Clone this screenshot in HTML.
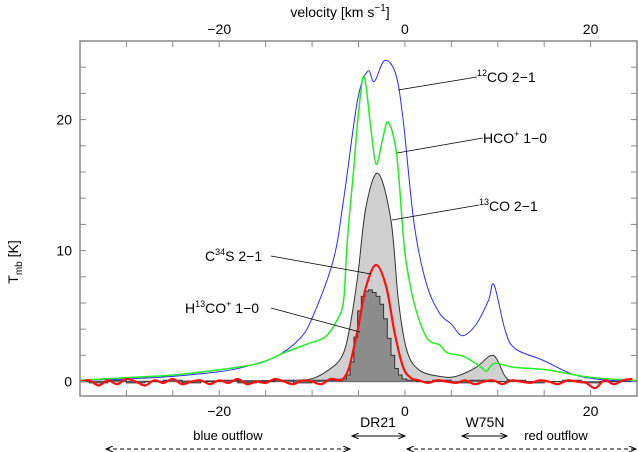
<!DOCTYPE html>
<html><head><meta charset="utf-8"><style>
html,body{margin:0;padding:0;background:#fff;}
svg{display:block;font-family:"Liberation Sans",sans-serif;}
</style></head><body>
<svg id="chart" width="638" height="452" viewBox="0 0 638 452">
<defs>
<marker id="ah" markerWidth="8" markerHeight="6" refX="7" refY="3" orient="auto-start-reverse"><path d="M0,0 L7,3 L0,6" fill="none" stroke="#000" stroke-width="1"/></marker>
</defs>
<g id="marks"></g>
<g id="axes"></g>
<g id="annot" font-size="14" fill="#000">
<text x="340" y="17" text-anchor="middle">velocity [km s<tspan dy="-6" font-size="10">−1</tspan><tspan dy="6">]</tspan></text>
<text transform="translate(18,262) rotate(-90)" text-anchor="middle">T<tspan dy="4" font-size="10">mb</tspan><tspan dy="-4"> [K]</tspan></text>
<g><line x1="398" y1="90" x2="477" y2="77" stroke="#000" stroke-width="0.8"/><text x="477" y="82"><tspan dy="-6" font-size="9">12</tspan><tspan dy="6">CO 2−1</tspan></text></g>
<g><line x1="397" y1="153" x2="483" y2="138" stroke="#000" stroke-width="0.8"/><text x="483" y="143">HCO<tspan dy="-6" font-size="9">+</tspan><tspan dy="6"> 1−0</tspan></text></g>
<g><line x1="392" y1="220" x2="479" y2="205" stroke="#000" stroke-width="0.8"/><text x="479" y="211"><tspan dy="-6" font-size="9">13</tspan><tspan dy="6">CO 2−1</tspan></text></g>
<g><line x1="271" y1="256" x2="371" y2="274" stroke="#000" stroke-width="0.8"/><text x="205" y="261">C<tspan dy="-6" font-size="9">34</tspan><tspan dy="6">S 2−1</tspan></text></g>
<g><line x1="271" y1="308" x2="360" y2="332" stroke="#000" stroke-width="0.8"/><text x="185" y="313">H<tspan dy="-6" font-size="9">13</tspan><tspan dy="6">CO</tspan><tspan dy="-6" font-size="9">+</tspan><tspan dy="6"> 1−0</tspan></text></g>
<text x="378" y="427" text-anchor="middle">DR21</text>
<line x1="352" y1="436" x2="405" y2="436" stroke="#000" marker-start="url(#ah)" marker-end="url(#ah)"/>
<text x="485" y="427" text-anchor="middle">W75N</text>
<line x1="462" y1="436" x2="507" y2="436" stroke="#000" marker-start="url(#ah)" marker-end="url(#ah)"/>
<text x="228" y="440" text-anchor="middle" font-size="13">blue outflow</text>
<line x1="106" y1="449" x2="350" y2="449" stroke="#000" stroke-dasharray="4,3" marker-start="url(#ah)" marker-end="url(#ah)"/>
<text x="556" y="440" text-anchor="middle" font-size="13">red outflow</text>
<line x1="407" y1="449" x2="636" y2="449" stroke="#000" stroke-dasharray="4,3" marker-start="url(#ah)" marker-end="url(#ah)"/>
</g>
</svg>
<script>
const xTicks=[-20,0,20];
const yTicks=[0,10,20];
const co12V=[-35,-30,-25,-20,-17.4,-13.9,-11.3,-9.9,-7.7,-6.6,-5.1,-4,-3.3,-2.2,-1,-0.2,1,2.3,3.75,5,6.2,7.7,9,9.6,10.8,11.9,14.8,17.9,20,22,25];
const co12T=[0.1,0.2,0.4,0.75,1.1,1.9,3.3,5,9.3,13.9,21.5,23.7,22.9,24.5,23.5,20,12,7.5,5.2,4.4,3.5,4.4,6.2,7.4,3.9,2.5,1.65,0.6,0.25,0.1,0];
const hcoV=[-35,-30,-25,-20,-15.7,-13,-10.4,-8.6,-7.3,-6.6,-6.2,-5.5,-5,-4.4,-3.7,-3.1,-2.4,-1.8,-0.9,-0.2,0.2,1.1,2.4,3.75,4.6,6.4,8.2,8.8,9.7,11.7,15.2,19.2,22,25];
const hcoT=[0.1,0.3,0.5,0.9,1.4,2.2,2.9,3.4,4.7,6.2,10.8,16.4,20.5,23.3,19.5,16.6,18.5,19.8,17.4,11.3,8.8,5.7,3.3,2.8,2.2,1.9,1.1,0.8,1.4,1.1,0.9,0.4,0.2,0.1];
const co13V=[-35,-20,-12,-9.9,-8.2,-6.8,-6,-5.1,-4.2,-2.9,-1.5,-0.7,0.2,1.5,3.75,5.5,7.7,9.5,10.8,11.7,15,25];
const co13T=[0,0.05,0.1,0.25,0.9,1.9,3.9,8,13.3,15.9,12.3,6.2,2.4,0.9,0.4,0.4,1.1,2.0,0.4,0.1,0,0];
const cssV=[-35,-34,-33,-32,-31,-30,-29,-28,-27,-26,-25,-24,-23,-22,-21,-20,-19,-18,-17,-16,-15,-14,-13,-12,-11,-10,-9,-8,-7,-6.6,-6,-5.1,-4.2,-3.1,-2,-1.1,-0.2,0.7,1.5,2.5,3.5,4.5,5.5,6.5,7.5,8.5,9.5,10.5,11.5,12.5,13.5,14.5,15.5,16.5,17.5,18.5,19.5,20.5,21.5,22.5,23.5,24.5];
const cssT=[0,0.1,-0.3,0.1,-0.2,0.2,0,-0.3,0.1,-0.1,0.2,-0.2,0,0.1,-0.2,0.1,-0.1,0.2,-0.2,0,-0.1,0.2,0,-0.2,0.1,0,-0.2,0.2,0.1,0.25,1.1,3.9,7.2,8.9,7.2,3.7,1.1,0.25,0.1,-0.1,0.1,0,-0.1,0.1,-0.2,0,0.1,-0.2,0.1,0,-0.1,0.1,0,-0.2,0.1,0,-0.1,-0.5,0.1,-0.2,0.1,0.2];
const h13V=[-35,-33,-31,-29,-27,-25,-23,-21,-19,-17,-15,-13,-11,-9,-7.5,-6.5,-6.1,-5.7,-5.3,-4.9,-4.5,-4.1,-3.7,-3.3,-2.9,-2.5,-2.1,-1.7,-1.3,-0.9,-0.5,-0.1,0.5,2,4,6,8,10,12,14,16,18,20,22,24];
const h13T=[0,-0.1,0.1,-0.1,0,0.1,-0.1,0,0.1,-0.1,0,0.1,-0.1,0.1,0.1,0.2,0.5,1.5,3.4,5.4,6.5,6.9,7.0,6.8,6.5,5.9,4.8,3.3,2.0,1.0,0.5,0.2,0.1,0,0.1,-0.1,0.1,0,0.1,-0.1,0,0.1,-0.1,0,0.1];

const NS='http://www.w3.org/2000/svg';
const L=80,R=637,T=41,B=396,vmin=-35,vmax=25,tmin=-1.1,tmax=26;
function sx(v){return L+(v-vmin)/(vmax-vmin)*(R-L);}
function sy(t){return B-(t-tmin)/(tmax-tmin)*(B-T);}
function mk(tag,attrs,parent){const e=document.createElementNS(NS,tag);for(const k in attrs)e.setAttribute(k,attrs[k]);parent.appendChild(e);return e;}
function smooth(V,Tv){const p=V.map((v,i)=>[sx(v),sy(Tv[i])]);let d='M'+p[0][0].toFixed(1)+','+p[0][1].toFixed(1);
for(let i=0;i<p.length-1;i++){const p0=p[Math.max(0,i-1)],p1=p[i],p2=p[i+1],p3=p[Math.min(p.length-1,i+2)];
const c1=[p1[0]+(p2[0]-p0[0])/6,p1[1]+(p2[1]-p0[1])/6],c2=[p2[0]-(p3[0]-p1[0])/6,p2[1]-(p3[1]-p1[1])/6];
d+=' C'+c1[0].toFixed(1)+','+c1[1].toFixed(1)+' '+c2[0].toFixed(1)+','+c2[1].toFixed(1)+' '+p2[0].toFixed(1)+','+p2[1].toFixed(1);}return d;}
function steps(V,Tv){let d='';for(let i=0;i<V.length;i++){const a=i===0?V[0]:(V[i-1]+V[i])/2,b=i===V.length-1?V[i]:(V[i]+V[i+1])/2;
d+=(i===0?'M':'L')+sx(a).toFixed(1)+','+sy(Tv[i]).toFixed(1)+' L'+sx(b).toFixed(1)+','+sy(Tv[i]).toFixed(1)+' ';}return d;}
const g=document.getElementById('marks');
const z=sy(0);
const d13=smooth(co13V,co13T);
const a13=mk('path',{d:d13+' L'+sx(co13V[co13V.length-1])+','+z+' L'+sx(co13V[0])+','+z+'Z',fill:'#d0d0d0',stroke:'#333','stroke-width':1},g);


const dh=steps(h13V,h13T);
const ah=mk('path',{d:dh+' L'+sx(h13V[h13V.length-1])+','+z+' L'+sx(h13V[0])+','+z+'Z',fill:'#8c8c8c',stroke:'none'},g);


const lh=mk('path',{d:dh,fill:'none',stroke:'#333','stroke-width':1},g);


const b=mk('path',{d:smooth(co12V,co12T),fill:'none',stroke:'#2a2aff','stroke-width':1},g);


const gr=mk('path',{d:smooth(hcoV,hcoT),fill:'none',stroke:'#22ee22','stroke-width':1.5},g);


const rd=mk('path',{d:smooth(cssV,cssT),fill:'none',stroke:'#ff1010','stroke-width':2.2},g);



const ax=document.getElementById('axes');
const box=mk('rect',{x:L,y:T,width:R-L,height:B-T,fill:'none',stroke:'#888','stroke-width':1.5},ax);


for(let v=-35;v<=25;v+=5){const x=sx(v);mk('line',{x1:x,y1:B,x2:x,y2:B-6,stroke:'#888'},ax);mk('line',{x1:x,y1:T,x2:x,y2:T+6,stroke:'#888'},ax);}
for(let t=0;t<=26;t+=2){const y=sy(t);mk('line',{x1:L,y1:y,x2:L+6,y2:y,stroke:'#888'},ax);mk('line',{x1:R,y1:y,x2:R-6,y2:y,stroke:'#888'},ax);}
xTicks.forEach(v=>{const lab=v<0?'−'+(-v):String(v);
const t1=mk('text',{x:sx(v),y:B+20,'text-anchor':'middle','font-size':14},ax);t1.textContent=lab;


const t2=mk('text',{x:sx(v),y:34,'text-anchor':'middle','font-size':14},ax);t2.textContent=lab;

});
yTicks.forEach(t=>{const e=mk('text',{x:L-8,y:sy(t)+5,'text-anchor':'end','font-size':14},ax);e.textContent=t;

});
</script>
</body></html>
